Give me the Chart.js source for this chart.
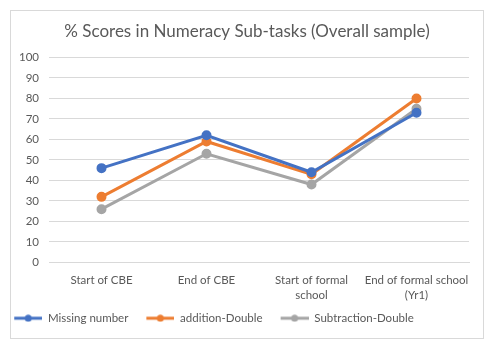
<!DOCTYPE html>
<html>
<head>
<meta charset="utf-8">
<script src="https://cdn.jsdelivr.net/npm/chart.js@4"></script>
<style>
  html, body { margin: 0; padding: 0; background: #fff; }
  #box { position: absolute; left: 10px; top: 10px; width: 472px; height: 327px; border: 1px solid #d9d9d9; }
  canvas { display: block; }
</style>
</head>
<body>
<div id="box"><canvas id="grafico" width="472" height="327"></canvas></div>
<script>
// categorias e séries
const categorias = ['Start of CBE', 'End of CBE', ['Start of formal', 'school'], ['End of formal school', '(Yr1)']];
const missingNumber = [46, 62, 44, 73];
const additionDouble = [32, 59, 43, 80];
const subtractionDouble = [26, 53, 38, 75];
const yTicks = [0, 10, 20, 30, 40, 50, 60, 70, 80, 90, 100];

const cores = { azul: '#4472c4', laranja: '#ed7d31', cinza: '#a5a5a5' };

// ícone da legenda: linha com ponto no meio (8px vazios à esquerda = espaço entre itens)
function iconeLegenda(cor) {
  const c = document.createElement('canvas');
  c.width = 36; c.height = 8;
  const g = c.getContext('2d');
  g.strokeStyle = cor; g.lineWidth = 3;
  g.beginPath(); g.moveTo(8, 4); g.lineTo(36, 4); g.stroke();
  g.fillStyle = cor;
  g.beginPath(); g.arc(22, 4, 3.5, 0, Math.PI * 2); g.fill();
  return c;
}

function serie(label, data, cor) {
  return {
    label, data,
    borderColor: cor, backgroundColor: cor,
    borderWidth: 3, pointRadius: 3.5, pointHoverRadius: 3.5,
    pointBackgroundColor: cor, pointBorderColor: cor,
    tension: 0, fill: false,
    pointStyle: 'circle',
    legendIcon: iconeLegenda(cor)
  };
}

// desloca título e legenda na horizontal (como no Excel)
const ajusteBlocos = {
  id: 'ajusteBlocos',
  afterLayout(chart) {
    chart.legend.left -= 29; chart.legend.right -= 29;
    chart.titleBlock.left += 8; chart.titleBlock.right += 8;
  }
};

Chart.defaults.font.family = 'Lato, "Open Sans", sans-serif';
Chart.defaults.color = '#595959';

new Chart(document.getElementById('grafico'), {
  type: 'line',
  data: {
    labels: categorias,
    datasets: [
      serie('Missing number', missingNumber, cores.azul),
      serie('addition-Double', additionDouble, cores.laranja),
      serie('Subtraction-Double', subtractionDouble, cores.cinza)
    ]
  },
  plugins: [ajusteBlocos],
  options: {
    responsive: false,
    animation: false,
    layout: { padding: { left: -2, right: 14, top: 4, bottom: 4 } },
    plugins: {
      title: {
        display: true,
        text: '% Scores in Numeracy Sub-tasks (Overall sample)',
        font: { size: 17, weight: 'normal' },
        padding: { top: 6, bottom: 16 }
      },
      legend: {
        position: 'bottom',
        labels: {
          usePointStyle: true,
          pointStyleWidth: 36,
          font: { size: 11.5 },
          padding: 10,
          generateLabels(chart) {
            return chart.data.datasets.map((ds, i) => ({
              text: ds.label,
              fillStyle: ds.borderColor,
              strokeStyle: ds.borderColor,
              pointStyle: ds.legendIcon,
              fontColor: '#595959',
              datasetIndex: i,
              hidden: false,
              lineWidth: 0
            }));
          }
        }
      },
      tooltip: { enabled: false }
    },
    scales: {
      x: {
        offset: true,
        afterFit(scale) { scale.height = 40; },
        grid: { display: false, drawTicks: false },
        border: { display: true, color: '#d9d9d9' },
        ticks: { font: { size: 11.5, lineHeight: 1.3 }, maxRotation: 0, autoSkip: false, padding: 10 }
      },
      y: {
        min: 0, max: 100,
        afterBuildTicks(axis) { axis.ticks = yTicks.map(v => ({ value: v })); },
        grid: { color: '#d9d9d9', drawTicks: false },
        border: { display: false },
        ticks: { font: { size: 11.5 }, padding: 10 }
      }
    }
  }
});
</script>
</body>
</html>
